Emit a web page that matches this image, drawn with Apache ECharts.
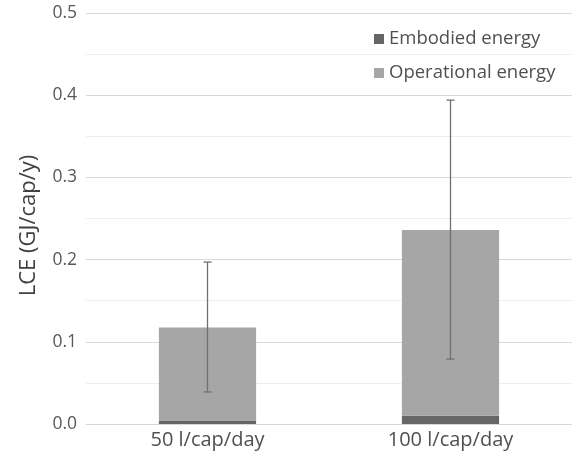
<!DOCTYPE html>
<html><head><meta charset="utf-8">
<script src="https://cdn.jsdelivr.net/npm/echarts@6/dist/echarts.min.js"></script>
<style>html,body{margin:0;padding:0;background:#fff}#c{width:572px;height:457px}</style>
</head><body><div id="c"></div>
<script>
var categories = ['50 l/cap/day', '100 l/cap/day'];
var embodied = [0.0035, 0.010];
var operational = [0.114, 0.226];
var errLow = [0.039, 0.079];
var errHigh = [0.197, 0.394];
var yTicks = [0, 0.1, 0.2, 0.3, 0.4, 0.5];

var FONT = 'Open Sans';
var chart = echarts.init(document.getElementById('c'));
var errData = categories.map(function (c, i) { return [i, errLow[i], errHigh[i]]; });

chart.setOption({
  animation: false,
  textStyle: { fontFamily: FONT },
  grid: { left: 86, right: 0, top: 13, bottom: 33 },
  legend: {
    orient: 'vertical', left: 369, top: 23,
    itemWidth: 10, itemHeight: 10, itemGap: 12, itemStyle: { borderWidth: 0 },
    icon: 'rect',
    textStyle: { fontFamily: FONT, fontSize: 18.5, color: '#505050', lineHeight: 22 },
    data: ['Embodied energy', 'Operational energy']
  },
  xAxis: {
    type: 'category', data: categories,
    axisTick: { show: false },
    axisLine: { lineStyle: { color: '#d9d9d9', width: 1 } },
    axisLabel: { fontFamily: FONT, fontSize: 20, color: '#505050', margin: 6 }
  },
  yAxis: {
    type: 'value', min: 0, max: 0.5, interval: 0.1,
    name: 'LCE (GJ/cap/y)', nameLocation: 'middle', nameGap: 46,
    nameTextStyle: { fontFamily: FONT, fontSize: 22, color: '#404040', padding: [0, 14, 0, 0] },
    axisLine: { show: false }, axisTick: { show: false },
    axisLabel: { fontFamily: FONT, fontSize: 17.5, color: '#595959', margin: 9,
      formatter: function (v) { return yTicks.indexOf(Math.round(v * 10) / 10) >= 0 ? v.toFixed(1) : ''; } },
    splitLine: { lineStyle: { color: '#d9d9d9', width: 1 } },
    minorTick: { show: false, splitNumber: 2 },
    minorSplitLine: { show: true, lineStyle: { color: '#eeeeee', width: 1 } }
  },
  series: [
    { name: 'Embodied energy', type: 'bar', stack: 'a', data: embodied, barWidth: '40%',
      itemStyle: { color: '#666666' } },
    { name: 'Operational energy', type: 'bar', stack: 'a', data: operational, barWidth: '40%',
      itemStyle: { color: '#a6a6a6' } },
    { name: 'err', type: 'custom', data: errData, z: 10,
      renderItem: function (params, api) {
        var x = api.value(0);
        var lo = api.coord([x, api.value(1)]);
        var hi = api.coord([x, api.value(2)]);
        var hw = 4;
        var st = { stroke: '#707070', lineWidth: 1.3 };
        return { type: 'group', children: [
          { type: 'line', shape: { x1: lo[0], y1: lo[1], x2: hi[0], y2: hi[1] }, style: st },
          { type: 'line', shape: { x1: lo[0] - hw, y1: lo[1], x2: lo[0] + hw, y2: lo[1] }, style: st },
          { type: 'line', shape: { x1: hi[0] - hw, y1: hi[1], x2: hi[0] + hw, y2: hi[1] }, style: st }
        ] };
      }
    }
  ]
});
</script></body></html>
